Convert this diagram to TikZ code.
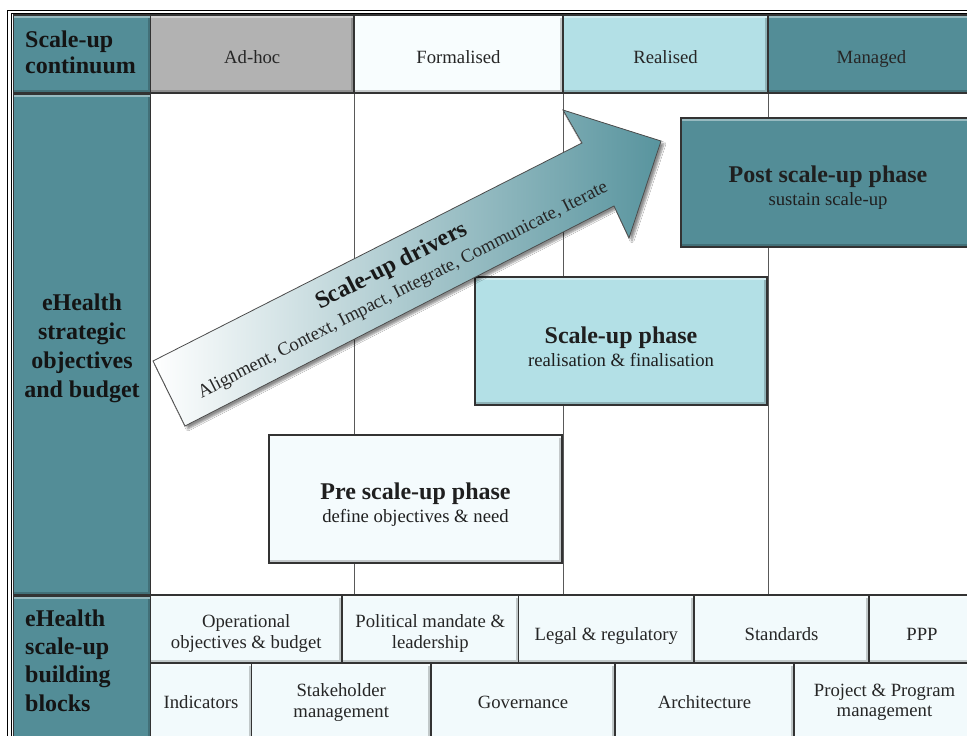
\documentclass[tikz,border=0pt]{standalone}
\usepackage{fontspec}
\setmainfont{Liberation Serif}
\usetikzlibrary{shadows.blur}
\definecolor{tealc}{RGB}{83,141,151}
\definecolor{grayc}{RGB}{178,178,178}
\definecolor{realc}{RGB}{179,224,230}
\definecolor{formc}{RGB}{248,253,254}
\definecolor{blockc}{RGB}{242,250,252}
\definecolor{prec}{RGB}{244,251,253}
\definecolor{arrowc}{RGB}{88,148,158}
\begin{document}
\begin{tikzpicture}[x=1pt,y=-1pt,
  bevel/.style={path picture={
    \fill[white,opacity=.4] (path picture bounding box.north west) rectangle ([yshift=-3pt]path picture bounding box.north east);
    \fill[black,opacity=.2] ([yshift=3pt]path picture bounding box.south west) rectangle (path picture bounding box.south east);
    \fill[black,opacity=.2] ([xshift=-3pt,yshift=-3pt]path picture bounding box.north east) rectangle ([yshift=3pt]path picture bounding box.south east);}},
  cell/.style={draw=black!80, line width=1.3pt, rectangle, inner sep=2pt, bevel},
  reg/.style={font=\fontsize{18.7}{20.5}\selectfont, text=black!85, align=center},
  hone/.style={reg, text height=18pt, text depth=0pt},
  rone/.style={reg, text height=22pt, text depth=0pt},
  lbl/.style={font=\fontsize{24}{#1}\selectfont\bfseries, text=black!92, inner sep=0pt},
  boxtxt/.style={font=\fontsize{18.7}{23}\selectfont, text=black!88, align=center, inner sep=0pt},
  colline/.style={draw=black!65, line width=1.3pt},
  frame/.style={draw=black, line width=1.2pt}
]
\useasboundingbox (0,0) rectangle (967,736);
\fill[white] (0,0) rectangle (967,736);
\clip (0,0) rectangle (967,736);
% outer double frame
\draw[frame] (7.5,10.5) rectangle (990,760);
\draw[frame] (11.8,13.8) rectangle (985,755);
% header row
\node[cell, fill=tealc, minimum width=137pt, minimum height=78pt] (lc1) at (82,54) {};
\node[cell, fill=grayc, minimum width=203.5pt, minimum height=78pt, hone] (adhoc) at (252.25,54) {Ad-hoc};
\node[cell, fill=formc, minimum width=209pt, minimum height=78pt, hone] (formal) at (458.5,54) {Formalised};
\node[cell, fill=realc, minimum width=205pt, minimum height=78pt, hone] (realised) at (665.5,54) {Realised};
\node[cell, fill=tealc, minimum width=207pt, minimum height=78pt, hone] (managed) at (871.5,54) {Managed};
% left column
\node[cell, fill=tealc, minimum width=137pt, minimum height=501pt] (lc2) at (82,344.5) {};
\node[cell, fill=tealc, minimum width=137pt, minimum height=146pt] (lc3) at (82,669) {};
% bottom rows
\node[cell, fill=blockc, minimum width=191.5pt, minimum height=68pt] (oper) at (246.25,629) {};
\node[reg, inner sep=0pt] (opert) at ([yshift=-4.5pt]oper.center) {Operational\\objectives \& budget};
\node[cell, fill=blockc, minimum width=176.5pt, minimum height=68pt] (polit) at (430.25,629) {};
\node[reg, inner sep=0pt] (politt) at ([yshift=-4.5pt]polit.center) {Political mandate \&\\leadership};
\node[cell, fill=blockc, minimum width=175.5pt, minimum height=68pt, rone] (legal) at (606.25,629) {Legal \& regulatory};
\node[cell, fill=blockc, minimum width=175pt, minimum height=68pt, rone] (stand) at (781.5,629) {Standards};
\node[cell, fill=blockc, minimum width=106pt, minimum height=68pt, rone] (ppp) at (922,629) {PPP};
\node[cell, fill=blockc, minimum width=101pt, minimum height=79pt, reg] (indic) at (201,702.5) {Indicators};
\node[cell, fill=blockc, minimum width=179.5pt, minimum height=79pt, reg] (stake) at (341.25,702.5) {Stakeholder\\management};
\node[cell, fill=blockc, minimum width=184pt, minimum height=79pt, reg] (gov) at (523,702.5) {Governance};
\node[cell, fill=blockc, minimum width=179pt, minimum height=79pt, reg] (arch) at (704.5,702.5) {Architecture};
\node[cell, fill=blockc, minimum width=181pt, minimum height=79pt, reg] (proj) at (884.5,702.5) {Project \& Program\\management};
% column lines
\draw[colline] (adhoc.south east) -- (adhoc.south east |- oper.north);
\draw[colline] (formal.south east) -- (formal.south east |- oper.north);
\draw[colline] (realised.south east) -- (realised.south east |- oper.north);
% phase boxes
\node[cell, fill=tealc, minimum width=294pt, minimum height=129pt] (post) at (828,182.5) {};
\node[cell, fill=realc, minimum width=292pt, minimum height=128pt] (scale) at (621,341) {};
\node[cell, fill=prec, minimum width=293pt, minimum height=128pt] (pre) at (415.5,499) {};
\node[boxtxt] (postt) at ([yshift=-5.3pt]post.center) {{\fontsize{24}{23}\selectfont\bfseries Post scale-up phase}\\sustain scale-up};
\node[boxtxt] (scalet) at ([yshift=-5.3pt]scale.center) {{\fontsize{24}{23}\selectfont\bfseries Scale-up phase}\\realisation \& finalisation};
\node[boxtxt] (pret) at ([yshift=-5.3pt]pre.center) {{\fontsize{24}{23}\selectfont\bfseries Pre scale-up phase}\\define objectives \& need};
% left labels
\node[lbl=26.5, align=left, anchor=west] (lc1t) at (25,52.5) {Scale-up\\continuum};
\node[lbl=29, align=center] (lc2t) at (82,348.4) {eHealth\\strategic\\objectives\\and budget};
\node[lbl=28.3, align=left, anchor=west] (lc3t) at (25,660.5) {eHealth\\scale-up\\building\\blocks};
% arrow
\path[blur shadow={shadow xshift=3pt, shadow yshift=-3pt, shadow blur steps=6, shadow opacity=45},
      left color=white, right color=arrowc, draw=black!70, line width=0.8pt]
  (153,361) -- (582,143) -- (563,110) -- (661,141) -- (629,238) -- (614,206) -- (185,426) -- cycle;
\node[rotate=27, anchor=base, inner sep=0pt, font=\fontsize{24}{24}\selectfont\bfseries, text=black!90] (drv) at (394.6,271.8) {Scale-up drivers};
\node[rotate=27, anchor=base, inner sep=0pt, font=\fontsize{18.7}{20}\selectfont, text=black!85] (drvsub) at (405.1,294.5) {Alignment, Context, Impact, Integrate, Communicate, Iterate};
\end{tikzpicture}
\end{document}
